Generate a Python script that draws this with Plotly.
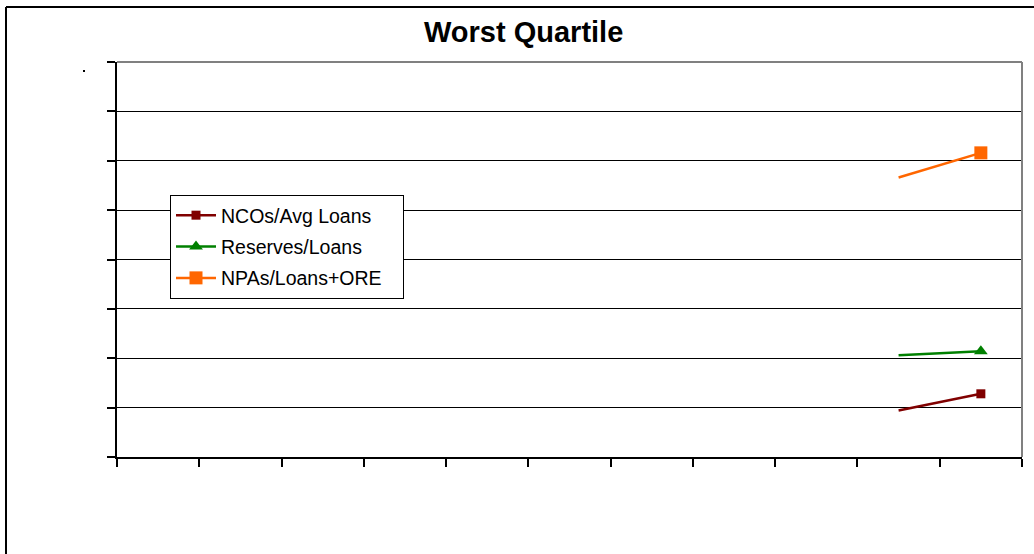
import plotly.graph_objects as go

# Data (percent), 11 periods; only the last two carry values
periods = list(range(11))
ncos = [None] * 9 + [0.47, 0.64]
reserves = [None] * 9 + [1.03, 1.07]
npas = [None] * 9 + [2.83, 3.08]

series_names = ["NCOs/Avg Loans", "Reserves/Loans", "NPAs/Loans+ORE"]
series_values = [ncos, reserves, npas]
colors = ["#800000", "#008000", "#FF6600"]
symbols = ["square", "triangle-up", "square"]
sizes = [9, 12, 13]

fig = go.Figure()
for name, vals, col, sym, sz in zip(series_names, series_values, colors, symbols, sizes):
    fig.add_trace(go.Scatter(
        x=periods, y=vals, mode="lines", line=dict(color=col, width=2.5),
        legendgroup=name, showlegend=False, hoverinfo="skip", connectgaps=False))
    fig.add_trace(go.Scatter(
        x=periods[-1:], y=vals[-1:], mode="lines+markers",
        name=name + "&nbsp;&nbsp;&nbsp;",
        line=dict(color=col, width=2.5), legendgroup=name,
        marker=dict(symbol=sym, size=sz, color=col)))

L, R, T, B = 117, 12, 62, 97
W, H = 1034, 554
pw, ph = W - L - R, H - T - B

def px_x(p):
    return (p - L) / pw

def px_y(p):
    return (H - B - p) / ph

shapes = [
    # gray top and right plot borders
    dict(type="line", xref="paper", yref="paper", x0=0, x1=1, y0=1, y1=1,
         line=dict(color="#808080", width=2)),
    dict(type="line", xref="paper", yref="paper", x0=1, x1=1, y0=0, y1=1,
         line=dict(color="#808080", width=2)),
    # outer chart frame (left and top)
    dict(type="line", xref="paper", yref="paper", x0=px_x(6), x1=px_x(6),
         y0=-0.5, y1=px_y(7), line=dict(color="black", width=2)),
    dict(type="line", xref="paper", yref="paper", x0=px_x(6), x1=1.2,
         y0=px_y(7), y1=px_y(7), line=dict(color="black", width=2)),
    # stray dot
    dict(type="rect", xref="paper", yref="paper", x0=px_x(83), x1=px_x(85),
         y0=px_y(72), y1=px_y(70), fillcolor="black", line=dict(width=0)),
]

fig.update_layout(
    width=W, height=H,
    margin=dict(l=L, r=R, t=T, b=B, autoexpand=False),
    paper_bgcolor="white", plot_bgcolor="white",
    font=dict(family="Liberation Sans, Arial, sans-serif", color="black"),
    showlegend=True,
    legend=dict(
        x=px_x(170), y=px_y(195), xanchor="left", yanchor="top",
        bgcolor="white", bordercolor="black", borderwidth=1,
        font=dict(size=19.5, family="Liberation Sans, Arial, sans-serif", color="black"),
        traceorder="grouped", tracegroupgap=3, itemsizing="trace", itemwidth=40,
    ),
    shapes=shapes,
    annotations=[dict(
        text="<b>Worst Quartile</b>", xref="paper", yref="paper",
        x=px_x(523), y=px_y(32), xanchor="center", yanchor="middle",
        showarrow=False,
        font=dict(size=29, family="Liberation Sans, Arial, sans-serif", color="black"),
    )],
)

fig.update_xaxes(
    range=[-0.5, 10.5], showgrid=False, zeroline=False,
    showline=True, linecolor="black", linewidth=1.5,
    tickmode="array", tickvals=[i - 0.5 for i in range(12)],
    ticks="outside", ticklen=8, tickcolor="black", tickwidth=1.5,
    showticklabels=False,
)
fig.update_yaxes(
    range=[0, 4], showgrid=True, gridcolor="black", gridwidth=1,
    zeroline=False, showline=True, linecolor="black", linewidth=1.5,
    tickmode="array", tickvals=[i * 0.5 for i in range(9)],
    ticks="outside", ticklen=8, tickcolor="black", tickwidth=1.5,
    showticklabels=False,
)

fig.write_html("out.html")
